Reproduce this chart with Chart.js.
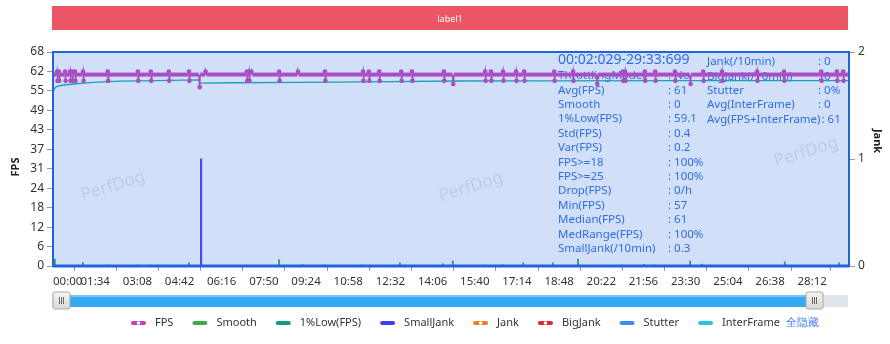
<!DOCTYPE html>
<html>
<head>
<meta charset="utf-8">
<script src="https://cdn.jsdelivr.net/npm/chart.js@4.4.1/dist/chart.umd.min.js"></script>
<style>
html, body { margin: 0; padding: 0; background: #fff; }
#wrap { width: 890px; height: 344px; }
</style>
</head>
<body>
<div id="wrap"><canvas id="fpsChart" width="890" height="344"></canvas></div>
<script>
// --- axes ---
const totalSeconds = 1774;
const xTickStep = 94;
const xTickLabels = ['00:00', '01:34', '03:08', '04:42', '06:16', '07:50', '09:24', '10:58', '12:32',
    '14:06', '15:40', '17:14', '18:48', '20:22', '21:56', '23:30', '25:04', '26:38', '28:12'];
const yTickLabels = ['0', '6', '12', '18', '24', '31', '37', '43', '49', '55', '62', '68'];
const yMax = 68.2;
const jankMax = 2;

// --- FPS (sits at 61, with short spikes) ---
const fpsBase = 61;
const spikeTimes = [9, 13, 27, 38, 43, 49, 67, 122, 189, 218, 258, 303, 326, 340, 432, 437, 442, 504,
    546, 606, 691, 704, 727, 776, 800, 871, 891, 963, 976, 1003, 1032, 1050, 1117, 1159, 1212, 1270,
    1275, 1319, 1342, 1386, 1420, 1449, 1491, 1569, 1629, 1712, 1747, 1761];
const spikeHigh = [62, 62, 62, 62, 62, 62, 62, 62, 62, 62, 62, 62, 61, 62, 62, 62, 62, 62,
    62, 62, 62, 62, 62, 62, 62, 62, 61, 62, 62, 62, 62, 62, 62, 62, 61, 62,
    62, 62, 62, 62, 61, 62, 62, 62, 62, 62, 62, 62];
const spikeLow = [59, 59, 59, 59, 59, 59, 59, 59, 59, 59, 59, 59, 57, 61, 59, 59, 61, 59,
    61, 59, 59, 59, 59, 59, 59, 59, 58, 59, 59, 59, 59, 59, 59, 59, 58, 59,
    59, 59, 59, 59, 58, 59, 59, 59, 59, 59, 59, 59];

// --- 1%Low(FPS) ---
const lowTimes = [0, 3, 8, 20, 45, 90, 150, 230, 325, 327, 400, 550, 700, 900, 1100, 1400, 1774];
const lowValues = [55.2, 56.5, 57.2, 57.6, 58.0, 58.5, 58.9, 59.1, 59.3, 58.3, 58.4, 58.5, 58.7, 58.95, 59.0, 59.05, 59.1];

// --- Smooth ---
const smoothTimes = [4, 67, 122, 189, 216, 256, 303, 504, 557, 606, 689, 773, 869, 891, 963, 1003,
    1048, 1114, 1170, 1268, 1317, 1339, 1420, 1446, 1631, 1752];
const smoothValues = [2.2, 1.1, 0.3, 0.3, 0.3, 0.3, 1, 2, 0.4, 0.3, 0.3, 1, 0.7, 1.6, 0.3, 0.4,
    1, 1, 2.2, 0.3, 0.5, 0.3, 1.6, 0.6, 1.3, 1];

// --- SmallJank (right axis) ---
const smallJankTimes = [330];
const smallJankValues = [1];

// --- stats box ---
const statsRange = '00:02:029-29:33:699';
const statsLeft = [
    ['ThrottlingModel', 'No'], ['Avg(FPS)', '61'], ['Smooth', '0'], ['1%Low(FPS)', '59.1'],
    ['Std(FPS)', '0.4'], ['Var(FPS)', '0.2'], ['FPS>=18', '100%'], ['FPS>=25', '100%'],
    ['Drop(FPS)', '0/h'], ['Min(FPS)', '57'], ['Median(FPS)', '61'], ['MedRange(FPS)', '100%'],
    ['SmallJank(/10min)', '0.3']
];
const statsRight = [
    ['Jank(/10min)', '0'], ['BigJank(/10min)', '0'], ['Stutter', '0%'],
    ['Avg(InterFrame)', '0'], ['Avg(FPS+InterFrame)', '61']
];

// --- legend ---
const legendNames = ['FPS', 'Smooth', '1%Low(FPS)', 'SmallJank', 'Jank', 'BigJank', 'Stutter', 'InterFrame'];
const legendColors = ['#c23fb6', '#3caa48', '#12998a', '#3f3ff2', '#f57a2c', '#e0262e', '#3f8cef', '#27c4db'];
const legendDots = [true, false, false, false, true, true, false, false];

const FONT = "'Microsoft YaHei', 'Noto Sans', sans-serif";

// build FPS points from the spikes
const fpsPoints = [{ x: 0, y: fpsBase }];
spikeTimes.forEach((t, i) => {
    fpsPoints.push({ x: t - 1, y: fpsBase });
    if (spikeHigh[i] !== fpsBase) fpsPoints.push({ x: t, y: spikeHigh[i] });
    if (spikeLow[i] !== fpsBase) fpsPoints.push({ x: t + 1, y: spikeLow[i] });
    fpsPoints.push({ x: t + 2, y: fpsBase });
});
fpsPoints.push({ x: totalSeconds, y: fpsBase });

const lowPoints = lowTimes.map((t, i) => ({ x: t, y: lowValues[i] }));
const smoothPoints = smoothTimes.map((t, i) => ({ x: t, y: smoothValues[i] }));
const smallJankPoints = smallJankTimes.map((t, i) => ({ x: t, y: smallJankValues[i] }));

function roundRect(ctx, x, y, w, h, r) {
    ctx.beginPath();
    ctx.moveTo(x + r, y);
    ctx.arcTo(x + w, y, x + w, y + h, r);
    ctx.arcTo(x + w, y + h, x, y + h, r);
    ctx.arcTo(x, y + h, x, y, r);
    ctx.arcTo(x, y, x + w, y, r);
    ctx.closePath();
}

function drawHandle(ctx, x) {
    roundRect(ctx, x, 292, 17, 17, 2);
    const g = ctx.createLinearGradient(0, 292, 0, 309);
    g.addColorStop(0, '#f4f4f4');
    g.addColorStop(1, '#d8d8d8');
    ctx.fillStyle = g;
    ctx.fill();
    ctx.strokeStyle = '#a8a8a8';
    ctx.lineWidth = 1;
    ctx.stroke();
    ctx.strokeStyle = '#666';
    for (let k = -2; k <= 2; k += 2) {
        ctx.beginPath();
        ctx.moveTo(x + 8.5 + k, 297);
        ctx.lineTo(x + 8.5 + k, 304);
        ctx.stroke();
    }
}

const decorPlugin = {
    id: 'decor',
    beforeDraw(chart) {
        const ctx = chart.ctx;
        ctx.save();
        ctx.fillStyle = '#ec5565';
        ctx.fillRect(52, 6, 796, 24);
        ctx.fillStyle = '#fff';
        ctx.font = '9px ' + FONT;
        ctx.textAlign = 'center';
        ctx.textBaseline = 'middle';
        ctx.fillText('label1', 450, 19);
        ctx.restore();
    },
    beforeDatasetsDraw(chart) {
        const { ctx, chartArea: ca } = chart;
        ctx.save();
        ctx.fillStyle = '#d1e0f8';
        ctx.fillRect(ca.left, ca.top, ca.width, ca.height);

        // watermark
        ctx.font = '17px ' + FONT;
        ctx.fillStyle = 'rgba(160, 165, 185, 0.35)';
        ctx.textAlign = 'center';
        ctx.textBaseline = 'middle';
        [[113, 186], [471, 187], [806, 152]].forEach(([wx, wy]) => {
            ctx.save();
            ctx.translate(wx, wy);
            ctx.rotate(-0.3);
            ctx.fillText('PerfDog', 0, 0);
            ctx.restore();
        });

        // stats text
        ctx.fillStyle = '#2f6de0';
        ctx.textAlign = 'left';
        ctx.font = '14px ' + FONT;
        ctx.fillText(statsRange, 558, 60);
        ctx.font = '11.5px ' + FONT;
        statsLeft.forEach(([k, v], i) => {
            const y = 76 + i * 14.4;
            ctx.fillText(k, 558, y);
            ctx.fillText(': ' + v, 668, y);
        });
        statsRight.forEach(([k, v], i) => {
            const y = 62 + i * 14.4;
            ctx.fillText(k, 707, y);
            const cx = Math.max(818, 707 + ctx.measureText(k).width + 1);
            ctx.fillText(': ' + v, cx, y);
        });
        ctx.restore();
    },
    afterDatasetsDraw(chart) {
        const { ctx, chartArea: ca } = chart;
        ctx.save();
        ctx.strokeStyle = '#1f62e2';
        ctx.lineWidth = 2;
        ctx.strokeRect(ca.left, ca.top, ca.width, ca.height);
        ctx.lineWidth = 3;
        ctx.beginPath();
        ctx.moveTo(ca.left, ca.bottom);
        ctx.lineTo(ca.right, ca.bottom);
        ctx.stroke();
        ctx.restore();
    },
    afterDraw(chart) {
        const ctx = chart.ctx;
        ctx.save();
        // axis titles
        ctx.fillStyle = '#222';
        ctx.font = 'bold 11px ' + FONT;
        ctx.textAlign = 'center';
        ctx.textBaseline = 'middle';
        ctx.save();
        ctx.translate(16, 167);
        ctx.rotate(-Math.PI / 2);
        ctx.fillText('FPS', 0, 0);
        ctx.restore();
        ctx.save();
        ctx.translate(877, 141);
        ctx.rotate(Math.PI / 2);
        ctx.fillText('Jank', 0, 0);
        ctx.restore();

        // range slider
        ctx.fillStyle = '#dfe3ea';
        ctx.fillRect(52, 295, 796, 12);
        ctx.fillStyle = '#34aaf3';
        ctx.fillRect(62, 295, 752, 12);
        ctx.fillStyle = 'rgba(255,255,255,0.35)';
        ctx.fillRect(62, 295, 752, 2);
        drawHandle(ctx, 53);
        drawHandle(ctx, 806);

        // legend
        let x = 131;
        const y = 323;
        ctx.font = '11px ' + FONT;
        ctx.textAlign = 'left';
        legendNames.forEach((name, i) => {
            ctx.strokeStyle = legendColors[i];
            ctx.lineWidth = 4;
            ctx.lineCap = 'round';
            ctx.beginPath();
            ctx.moveTo(x + 2, y);
            ctx.lineTo(x + 13, y);
            ctx.stroke();
            if (legendDots[i]) {
                ctx.fillStyle = '#fff';
                ctx.beginPath();
                ctx.arc(x + 7.5, y, 1.8, 0, Math.PI * 2);
                ctx.fill();
            }
            x += 24;
            ctx.fillStyle = '#333';
            ctx.fillText(name, x, y);
            x += ctx.measureText(name).width + 19;
        });
        ctx.fillStyle = '#4b7cf3';
        ctx.fillText('全隐藏', x - 13, y);
        ctx.restore();
    }
};

const ctx = document.getElementById('fpsChart').getContext('2d');
const chart = new Chart(ctx, {
    type: 'line',
    data: {
        datasets: [
            {
                label: 'FPS',
                data: fpsPoints,
                yAxisID: 'y',
                borderColor: '#a94dc2',
                backgroundColor: '#a94dc2',
                borderWidth: 1.5,
                pointRadius: c => (c.raw && c.raw.y !== fpsBase ? 2.3 : 0),
                pointBorderWidth: 0,
                segment: {
                    borderWidth: s => (s.p0.parsed.y === fpsBase && s.p1.parsed.y === fpsBase ? 4 : 1.5)
                },
                order: 0
            },
            {
                label: '1%Low(FPS)',
                data: lowPoints,
                yAxisID: 'y',
                borderColor: '#1f9fb0',
                borderWidth: 1.3,
                pointRadius: 0,
                order: 1
            },
            {
                type: 'bar',
                label: 'Smooth',
                data: smoothPoints,
                yAxisID: 'y',
                backgroundColor: '#2e9c70',
                barThickness: 1.2,
                grouped: false,
                order: 2
            },
            {
                type: 'bar',
                label: 'SmallJank',
                data: smallJankPoints,
                yAxisID: 'y1',
                backgroundColor: '#4848f2',
                barThickness: 1.5,
                grouped: false,
                order: 3
            }
        ]
    },
    options: {
        responsive: false,
        animation: false,
        events: [],
        layout: { padding: { top: 52, left: 0, right: 0, bottom: 0 } },
        plugins: {
            legend: { display: false },
            tooltip: { enabled: false }
        },
        scales: {
            x: {
                type: 'linear',
                min: 0,
                max: totalSeconds,
                offset: false,
                afterFit: s => { s.height = 78; },
                afterBuildTicks: s => {
                    s.ticks = xTickLabels.map((l, i) => ({ value: i * xTickStep }))
                        .concat([{ value: totalSeconds }]);
                },
                grid: { drawOnChartArea: false, color: '#999', tickLength: 5 },
                border: { color: '#999' },
                ticks: {
                    autoSkip: false,
                    maxRotation: 0,
                    align: 'inner',
                    padding: 4,
                    color: '#333',
                    font: { size: 11.5, family: FONT },
                    callback: (v, i) => xTickLabels[i] || ''
                }
            },
            y: {
                position: 'left',
                min: 0,
                max: yMax,
                afterFit: s => { s.width = 53; },
                afterBuildTicks: s => {
                    s.ticks = yTickLabels.map((l, i) => ({ value: i * yMax / (yTickLabels.length - 1) }));
                },
                grid: { drawOnChartArea: false, color: '#999', tickLength: 6 },
                border: { color: '#999' },
                ticks: {
                    padding: 3,
                    color: '#333',
                    font: { size: 12, family: FONT },
                    callback: (v, i) => yTickLabels[i]
                }
            },
            y1: {
                position: 'right',
                min: 0,
                max: jankMax,
                afterFit: s => { s.width = 41; },
                grid: { drawOnChartArea: false, color: '#999', tickLength: 6 },
                border: { color: '#999' },
                ticks: {
                    stepSize: 1,
                    padding: 3,
                    color: '#333',
                    font: { size: 12, family: FONT }
                }
            }
        }
    },
    plugins: [decorPlugin]
});
</script>
</body>
</html>
